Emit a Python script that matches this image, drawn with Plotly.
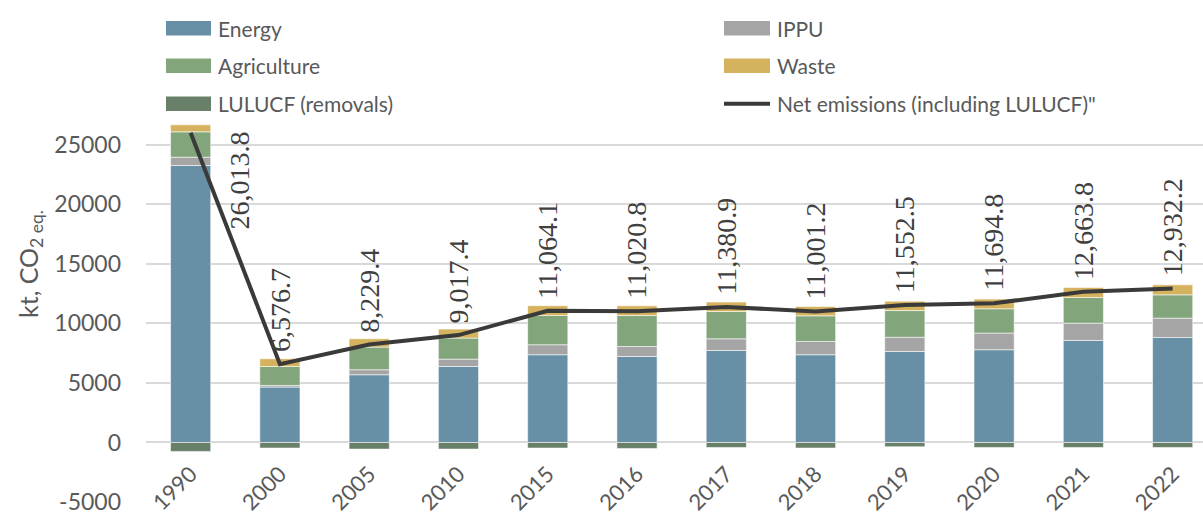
import plotly.graph_objects as go

years = ["1990", "2000", "2005", "2010", "2015", "2016", "2017", "2018", "2019", "2020", "2021", "2022"]
energy = [23260, 4650, 5690, 6380, 7370, 7220, 7730, 7370, 7640, 7790, 8570, 8820]
ippu = [700, 140, 420, 620, 840, 840, 980, 1110, 1200, 1400, 1450, 1620]
agriculture = [2130, 1590, 1900, 1770, 2460, 2600, 2290, 2160, 2240, 2040, 2160, 1960]
waste = [590, 650, 700, 750, 815, 815, 790, 780, 785, 810, 840, 840]
lulucf = [-750, -470, -555, -555, -470, -500, -420, -470, -360, -420, -420, -420]
net = [26013.8, 6576.7, 8229.4, 9017.4, 11064.1, 11020.8, 11380.9, 11001.2, 11552.5, 11694.8, 12663.8, 12932.2]

y_ticks = [-5000, 0, 5000, 10000, 15000, 20000, 25000]
y_tick_text = ["-5000", "0", "5000", "10000", "15000", "20000", "25000"]

C_ENERGY = "#6790A6"
C_IPPU = "#A5A5A5"
C_AGRI = "#83A57C"
C_WASTE = "#D4B25E"
C_LULUCF = "#687F68"
C_NET = "#3A3A3A"
TXT = "#595959"
FONT = "Lato, Noto Sans, sans-serif"
LBL_FONT = "Liberation Sans Narrow"

W, H = 1203, 516
ML, MR, MT, MB = 146, 0, 121, 14
PW, PH = W - ML - MR, H - MT - MB


def px_x(p):
    return (p - ML) / PW


def px_y(p):
    return (H - MB - p) / PH


fig = go.Figure()
outline = dict(color="rgba(255,255,255,0.7)", width=0.8)
for name, vals, col in [("Energy", energy, C_ENERGY), ("IPPU", ippu, C_IPPU),
                        ("Agriculture", agriculture, C_AGRI), ("Waste", waste, C_WASTE),
                        ("LULUCF (removals)", lulucf, C_LULUCF)]:
    fig.add_trace(go.Bar(x=years, y=vals, name=name, marker=dict(color=col, line=outline),
                         showlegend=False))

fig.add_trace(go.Scatter(x=years, y=net, mode="lines", name="Net emissions (including LULUCF)\"",
                         line=dict(color=C_NET, width=4), showlegend=False))

annotations = []
for i, v in enumerate(net):
    txt = f"{v:,.1f}"
    if i == 0:
        annotations.append(dict(x=i, y=v, xref="x", yref="y", text=txt, textangle=-90,
                                showarrow=False, xanchor="center", yanchor="top",
                                xshift=49, yshift=3,
                                font=dict(family=LBL_FONT, size=28, color="#404040")))
    else:
        annotations.append(dict(x=i, y=v, xref="x", yref="y", text=txt, textangle=-90,
                                showarrow=False, xanchor="center", yanchor="bottom",
                                yshift=10,
                                font=dict(family=LBL_FONT, size=28, color="#404040")))

# legend (manual)
shapes = []
leg_items = [
    ("Energy", C_ENERGY, 166, 211, 28.3, "bar"),
    ("Agriculture", C_AGRI, 166, 211, 65.7, "bar"),
    ("LULUCF (removals)", C_LULUCF, 166, 211, 103.7, "bar"),
    ("IPPU", C_IPPU, 724, 770, 28.3, "bar"),
    ("Waste", C_WASTE, 724, 770, 65.7, "bar"),
    ("Net emissions (including LULUCF)\"", C_NET, 724, 770, 103.7, "line"),
]
for label, col, x0, x1, yc, kind in leg_items:
    if kind == "bar":
        shapes.append(dict(type="rect", xref="paper", yref="paper",
                           x0=px_x(x0), x1=px_x(x1), y0=px_y(yc + 7.3), y1=px_y(yc - 7.3),
                           fillcolor=col, line=dict(width=0), layer="above"))
    else:
        shapes.append(dict(type="line", xref="paper", yref="paper",
                           x0=px_x(x0), x1=px_x(x1), y0=px_y(yc), y1=px_y(yc),
                           line=dict(color=col, width=4)))
    annotations.append(dict(x=px_x(x1 + 5), y=px_y(yc), xref="paper", yref="paper", text=label,
                            showarrow=False, xanchor="left", yanchor="middle",
                            font=dict(family=FONT, size=21, color=TXT)))

# y-axis title
annotations.append(dict(x=px_x(30), y=px_y(264), xref="paper", yref="paper",
                        text="kt, CO<sub>2 eq.</sub>", textangle=-90, showarrow=False,
                        xanchor="center", yanchor="middle",
                        font=dict(family=FONT, size=25, color=TXT)))

fig.update_layout(
    width=W, height=H,
    margin=dict(l=ML, r=MR, t=MT, b=MB, pad=0, autoexpand=False),
    barmode="relative", bargap=0.55,
    plot_bgcolor="white", paper_bgcolor="white",
    font=dict(family=FONT, size=22, color=TXT),
    annotations=annotations, shapes=shapes,
    showlegend=False,
    xaxis=dict(type="category", range=[-0.5, 11.34], showgrid=False, showline=False,
               zeroline=False, tickangle=-45, anchor="free", position=px_y(456),
               automargin=False,
               tickfont=dict(family=FONT, size=22, color=TXT), ticks=""),
    yaxis=dict(range=[-5000, 27000], tickmode="array", tickvals=y_ticks, ticktext=y_tick_text,
               showgrid=True, gridcolor="#D9D9D9", gridwidth=1.8, zeroline=False,
               showline=False, ticks="", ticklabelstandoff=24, automargin=False,
               tickfont=dict(family=FONT, size=23, color=TXT)),
)

fig.write_html("out.html", config={"displayModeBar": False},
               post_script="document.body.style.margin='0px';document.body.style.padding='0px';")
